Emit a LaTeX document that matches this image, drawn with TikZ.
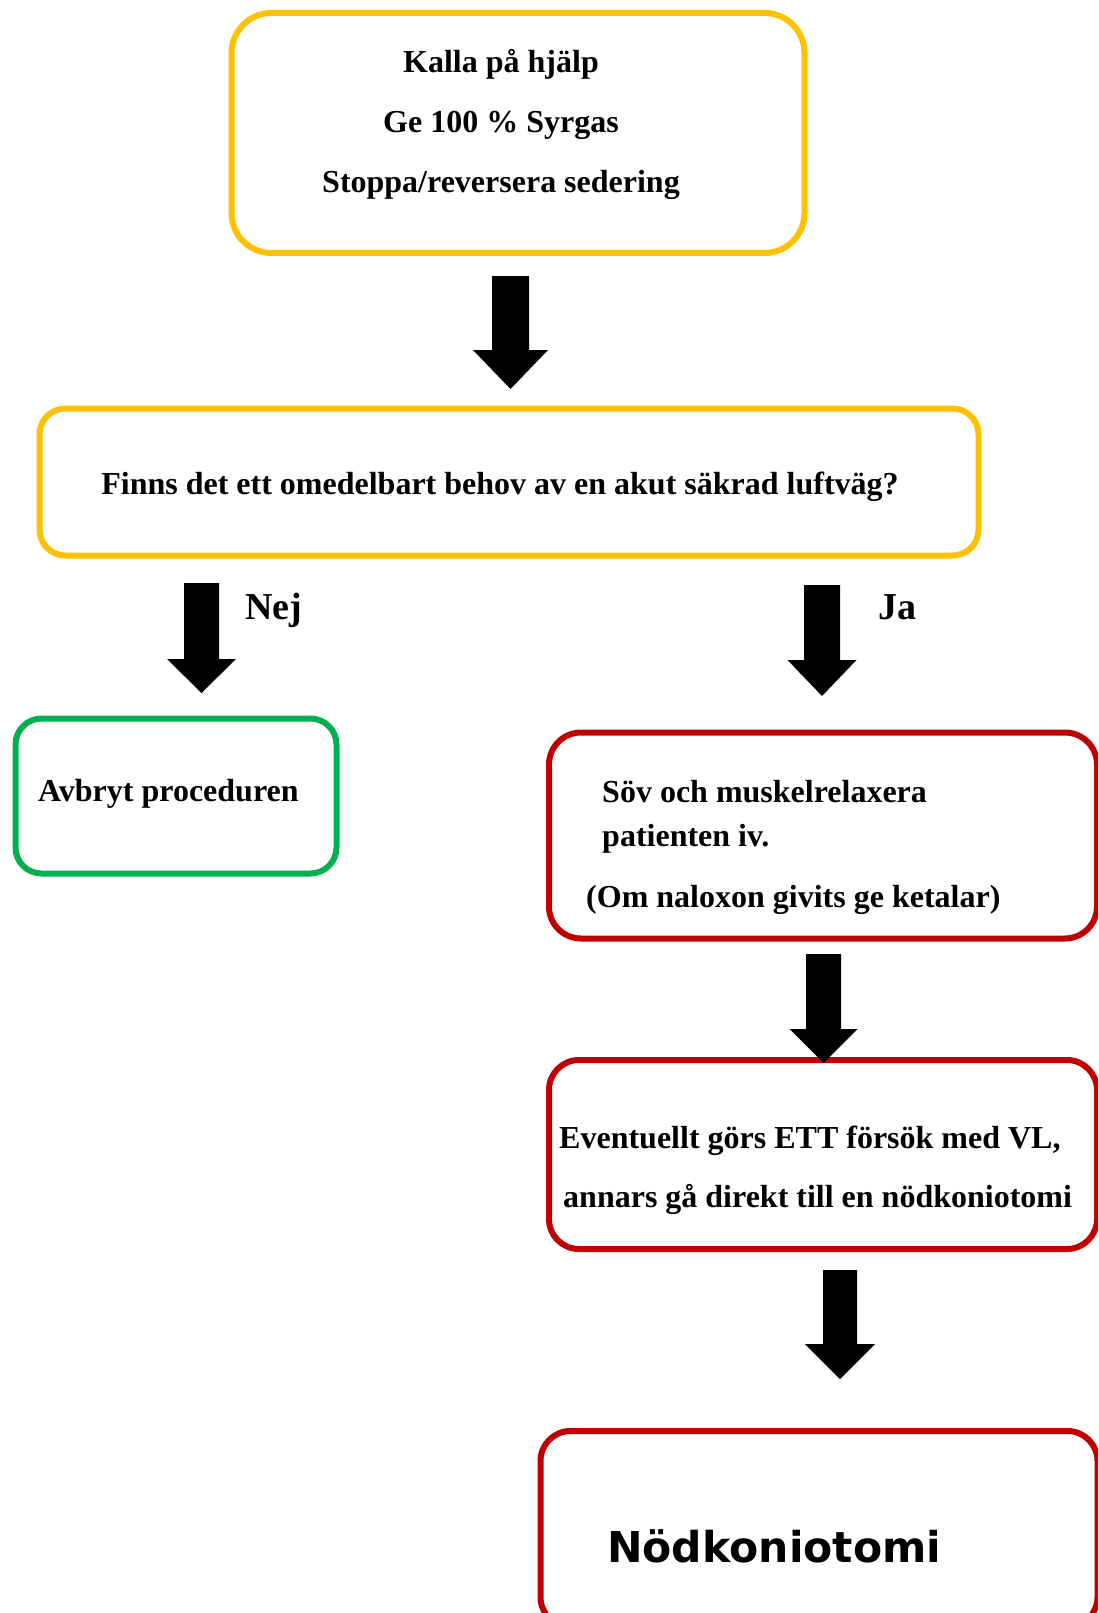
\documentclass[tikz,border=0pt]{standalone}
\usepackage{fontspec}
\setmainfont{Liberation Serif}
\newfontfamily\dejavu{DejaVu Sans}
\usetikzlibrary{calc}
\definecolor{boxyellow}{HTML}{FFC000}
\definecolor{boxgreen}{HTML}{00B050}
\definecolor{boxred}{HTML}{C00000}
\newcommand\blockarr[5]{\fill let \p1=(#1), \p2=(#2) in
  (\x1-#3/2,\y1) -- (\x1+#3/2,\y1) -- (\x1+#3/2,\y2+#5) -- (\x1+#4/2,\y2+#5)
  -- (\x2,\y2) -- (\x1-#4/2,\y2+#5) -- (\x1-#3/2,\y2+#5) -- cycle;}
\begin{document}
\begin{tikzpicture}[x=1pt,y=-1pt,
  box/.style={draw=#1, line width=6pt, inner sep=0pt, fill=white},
  txt/.style={inner sep=0pt, font=\fontsize{32}{38}\selectfont\bfseries},
  txtl/.style={txt, anchor=base west},
  txtc/.style={txt, anchor=base},
  lbl/.style={inner sep=0pt, anchor=base west, font=\fontsize{38}{44}\selectfont\bfseries}]
\useasboundingbox (0,0) rectangle (1098,1613);
\clip (0,0) rectangle (1098,1613);
\fill[white] (0,0) rectangle (1098,1613);
% boxes
\node[box=boxyellow, rounded corners=40pt, minimum width=573pt, minimum height=240pt] (b1) at (518,133) {};
\node[box=boxyellow, rounded corners=26pt, minimum width=939pt, minimum height=147pt] (b2) at (509,482) {};
\node[box=boxgreen, rounded corners=26pt, minimum width=321pt, minimum height=155pt] (bno) at (176,796) {};
\node[box=boxred, rounded corners=32pt, minimum width=548pt, minimum height=206pt] (bja) at (823,835.5) {};
\node[box=boxred, rounded corners=30pt, minimum width=548pt, minimum height=189pt] (bvl) at (823,1154.5) {};
\node[box=boxred, rounded corners=30pt, minimum width=557pt, minimum height=196pt] (bkon) at (819,1529) {};
% texts
\node[txtc] (t1a) at (501,73) {Kalla på hjälp};
\node[txtc] (t1b) at (501,133) {Ge 100 \% Syrgas};
\node[txtc] (t1c) at (501,193) {Stoppa/reversera sedering};
\node[txtc] (t2) at (500,494) {Finns det ett omedelbart behov av en akut säkrad luftväg?};
\node[lbl] (lnej) at (245,619) {Nej};
\node[lbl] (lja) at (878,619) {Ja};
\node[txtl] (tno) at (38,801) {Avbryt proceduren};
\node[txtl] (tja1) at (602,802) {Söv och muskelrelaxera};
\node[txtl] (tja2) at (602,846) {patienten iv.};
\node[txtl] (tja3) at (586,907) {(Om naloxon givits ge ketalar)};
\node[txtl] (tvl1) at (559,1148) {Eventuellt görs ETT försök med VL,};
\node[txtl] (tvl2) at (563,1207) {annars gå direkt till en nödkoniotomi};
\node[inner sep=0pt, anchor=base west, font=\dejavu\fontsize{42.5}{50}\selectfont\bfseries] (tkon) at (607,1562) {Nödkoniotomi};
% arrows
\coordinate (a1s) at (510.5,276); \coordinate (a1e) at (510.5,389);
\coordinate (a2s) at (201.5,583); \coordinate (a2e) at (201.5,693);
\coordinate (a3s) at (822,585);   \coordinate (a3e) at (822,696);
\coordinate (a4s) at (823.5,954); \coordinate (a4e) at (823.5,1063);
\coordinate (a5s) at (840,1270);  \coordinate (a5e) at (840,1379);
\blockarr{a1s}{a1e}{37pt}{75pt}{39pt}
\blockarr{a2s}{a2e}{35pt}{69pt}{34pt}
\blockarr{a3s}{a3e}{36pt}{69pt}{36pt}
\blockarr{a4s}{a4e}{35pt}{68pt}{34pt}
\blockarr{a5s}{a5e}{34pt}{70pt}{35pt}
\end{tikzpicture}
\end{document}
